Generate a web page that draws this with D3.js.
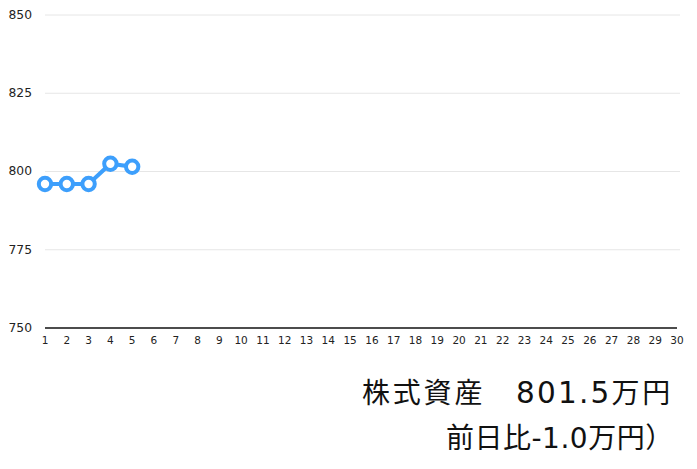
<!DOCTYPE html>
<html><head><meta charset="utf-8">
<script src="https://cdn.jsdelivr.net/npm/d3@7"></script>
<style>body{margin:0;background:#fff}svg{display:block}</style>
</head><body>
<svg id="c" width="697" height="469"></svg>
<script>
const days = d3.range(1, 31);
const dataDays = [1, 2, 3, 4, 5];
const values = [796.0, 796.0, 796.0, 802.5, 801.5];
const yTicks = [750, 775, 800, 825, 850];
const titleText = "株式資産\u3000801.5万円";
const subText = "前日比-1.0万円）";

const svg = d3.select("#c");
const font = "'DejaVu Sans','Noto Sans CJK JP',sans-serif";
const x = d3.scaleLinear().domain([1, 30]).range([45, 677]);
const y = d3.scaleLinear().domain([750, 850]).range([328, 15]);

// gridlines
svg.append("g").selectAll("line").data(yTicks.slice(1)).join("line")
  .attr("x1", 45).attr("x2", 680)
  .attr("y1", d => y(d)).attr("y2", d => y(d))
  .attr("stroke", "#e6e6e6").attr("stroke-width", 1);

// y labels
svg.append("g").selectAll("text").data(yTicks).join("text")
  .attr("x", 32).attr("y", d => y(d) + 3.8)
  .attr("text-anchor", "end").attr("font-family", font).attr("font-size", 12.3)
  .attr("fill", "#222").text(d => d);

// x axis line
svg.append("line").attr("x1", 45).attr("x2", 677)
  .attr("y1", y(750)).attr("y2", y(750)).attr("stroke", "#111").attr("stroke-width", 1.5);

// x labels
svg.append("g").selectAll("text").data(days).join("text")
  .attr("x", d => x(d)).attr("y", 343.5)
  .attr("text-anchor", "middle").attr("font-family", font).attr("font-size", 10.5)
  .attr("fill", "#222").text(d => d);

const pts = dataDays.map((d, i) => [d, values[i]]);
const blue = "#3d9ffc";
svg.append("path").datum(pts)
  .attr("d", d3.line().x(d => x(d[0])).y(d => y(d[1])))
  .attr("fill", "none").attr("stroke", blue).attr("stroke-width", 4);
svg.append("g").selectAll("circle").data(pts).join("circle")
  .attr("cx", d => x(d[0])).attr("cy", d => y(d[1])).attr("r", 6.2)
  .attr("fill", "#fff").attr("stroke", blue).attr("stroke-width", 4);

function runs(s) { return s.match(/[\x20-\x7e]+|[^\x20-\x7e]+/g); }
function drawText(str, x0, y0, cjkSpacing, latinSize, latinSpacing) {
  const t = svg.append("text").attr("x", x0).attr("y", y0)
    .attr("font-family", font).attr("fill", "#111");
  t.selectAll("tspan").data(runs(str)).join("tspan")
    .attr("font-size", d => /^[\x20-\x7e]+$/.test(d) ? latinSize : 28)
    .attr("letter-spacing", d => /^[\x20-\x7e]+$/.test(d) ? latinSpacing : cjkSpacing)
    .text(d => d);
}
drawText(titleText, 362, 403, 2.8, 29.5, 2.2);
drawText(subText, 446, 448, 0.5, 28, 0.5);
</script>
</body></html>
